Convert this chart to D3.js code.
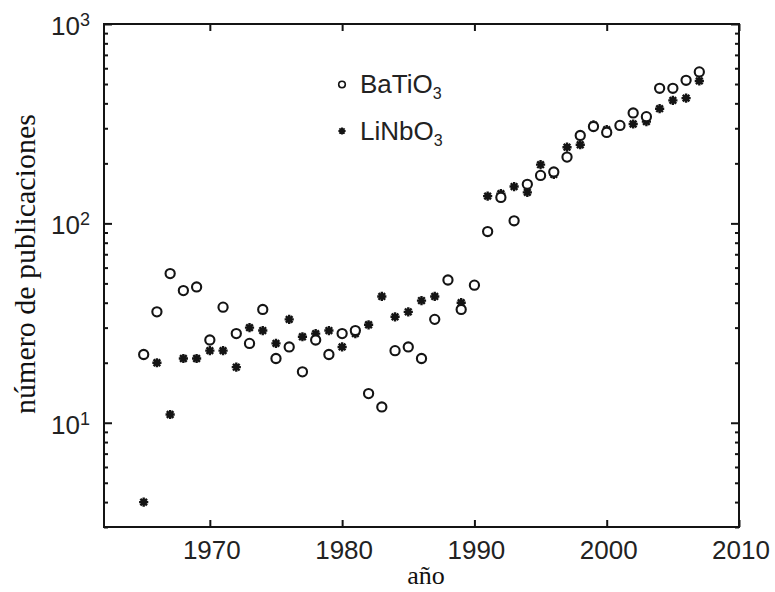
<!DOCTYPE html>
<html>
<head>
<meta charset="utf-8">
<script src="https://cdn.jsdelivr.net/npm/d3@7"></script>
<style>
  html, body { margin: 0; padding: 0; background: #fff; }
  svg { display: block; }
</style>
</head>
<body>
<svg id="chart" width="775" height="592"></svg>
<script>
// ---- data ----
const years = d3.range(1965, 2008);
const batio3 = [22, 36, 56, 46, 48, 26, 38, 28, 25, 37, 21, 24, 18, 26, 22, 28, 29, 14, 12, 23, 24, 21, 33, 52, 37, 49,
                91, 135, 103, 157, 174, 181, 215, 276, 306, 286, 310, 358, 343, 476, 476, 522, 575];
const linbo3 = [4, 20, 11, 21, 21, 23, 23, 19, 30, 29, 25, 33, 27, 28, 29, 24, 28, 31, 43, 34, 36, 41, 43, 52, 40, 49,
                137, 141, 153, 143, 197, 176, 241, 248, 312, 295, 310, 315, 324, 376, 414, 425, 518];
const xTicks = [1970, 1980, 1990, 2000, 2010];
const yMajor = [10, 100, 1000];
const yMajorExp = ["1", "2", "3"];
const yMinor = [3, 4, 5, 6, 7, 8, 9, 20, 30, 40, 50, 60, 70, 80, 90, 200, 300, 400, 500, 600, 700, 800, 900];
const seriesNames = ["BaTiO", "LiNbO"];
const xLabel = "año";
const yLabel = "número de publicaciones";

// ---- layout ----
const L = 104, R = 739, T = 24, B = 527;
const ink = "#141414";
const sans = "'Liberation Sans', Arial, Helvetica, sans-serif";
const serif = "'Liberation Serif', 'Times New Roman', serif";

const svg = d3.select("#chart");
const x = d3.scaleLinear().domain([1962, 2010]).range([L, R]);
const y = d3.scaleLog().domain([3, 1000]).range([B, T]);

// axes (inward ticks)
const gB = svg.append("g").attr("transform", `translate(0,${B})`)
  .call(d3.axisBottom(x).tickValues(xTicks).tickFormat(d3.format("d")).tickSizeInner(-7).tickSizeOuter(0).tickPadding(13.5));
const gT = svg.append("g").attr("transform", `translate(0,${T})`)
  .call(d3.axisTop(x).tickValues(xTicks).tickFormat("").tickSizeInner(-7).tickSizeOuter(0));
const gLmin = svg.append("g").attr("transform", `translate(${L},0)`)
  .call(d3.axisLeft(y).tickValues(yMinor).tickFormat("").tickSizeInner(-4).tickSizeOuter(0));
const gL = svg.append("g").attr("transform", `translate(${L},0)`)
  .call(d3.axisLeft(y).tickValues(yMajor).tickFormat("").tickSizeInner(-8).tickSizeOuter(0));
const gRmin = svg.append("g").attr("transform", `translate(${R},0)`)
  .call(d3.axisRight(y).tickValues(yMinor).tickFormat("").tickSizeInner(-4).tickSizeOuter(0));
const gR = svg.append("g").attr("transform", `translate(${R},0)`)
  .call(d3.axisRight(y).tickValues(yMajor).tickFormat("").tickSizeInner(-8).tickSizeOuter(0));

[gB, gT, gLmin, gL, gRmin, gR].forEach(g => {
  g.select(".domain").remove();
  g.selectAll(".tick line").attr("stroke", ink).attr("stroke-width", 2);
});
gB.selectAll(".tick text").attr("fill", "#222").attr("font-family", sans).attr("font-size", 26).attr("dx", 1.5);

// y major labels with superscripts
yMajor.forEach((v, i) => {
  const t = svg.append("text")
    .attr("x", 90).attr("y", y(v) + 11)
    .attr("text-anchor", "end")
    .attr("font-family", sans).attr("font-size", 26).attr("fill", "#222");
  t.append("tspan").text("10");
  t.append("tspan").attr("font-size", 18).attr("dy", -9).text(yMajorExp[i]);
});

// frame
svg.append("rect").attr("x", L).attr("y", T).attr("width", R - L).attr("height", B - T)
  .attr("fill", "none").attr("stroke", ink).attr("stroke-width", 2);

// markers
const starPath = r => {
  const d = r * 0.72;
  return `M${-r},0L${r},0M0,${-r}L0,${r}M${-d},${-d}L${d},${d}M${-d},${d}L${d},${-d}`;
};

svg.append("g").selectAll("path").data(years.map((yr, i) => [yr, linbo3[i]]))
  .join("path")
  .attr("transform", d => `translate(${x(d[0])},${y(d[1])})`)
  .attr("d", starPath(4.6))
  .attr("stroke", ink).attr("stroke-width", 2.4).attr("fill", "none");

svg.append("g").selectAll("circle").data(years.map((yr, i) => [yr, batio3[i]]))
  .join("circle")
  .attr("cx", d => x(d[0])).attr("cy", d => y(d[1])).attr("r", 4.6)
  .attr("fill", "#fff").attr("stroke", ink).attr("stroke-width", 2.1);

// legend
const leg = svg.append("g");
leg.append("circle").attr("cx", 342).attr("cy", 84.5).attr("r", 3.3)
  .attr("fill", "#fff").attr("stroke", ink).attr("stroke-width", 1.6);
leg.append("path").attr("transform", "translate(342,131)").attr("d", starPath(3.6))
  .attr("stroke", ink).attr("stroke-width", 1.9).attr("fill", "none");
[[93, seriesNames[0]], [139.5, seriesNames[1]]].forEach(([by, name]) => {
  const t = leg.append("text").attr("x", 360).attr("y", by)
    .attr("font-family", sans).attr("font-size", 26).attr("fill", "#222");
  t.append("tspan").text(name);
  t.append("tspan").attr("font-size", 16).attr("dy", 6).text("3");
});

// axis titles
svg.append("text").attr("x", 426).attr("y", 584).attr("text-anchor", "middle")
  .attr("font-family", serif).attr("font-size", 26).attr("fill", "#111").text(xLabel);
svg.append("text").attr("transform", "translate(35,264) rotate(-90)").attr("text-anchor", "middle")
  .attr("font-family", serif).attr("font-size", 30).attr("fill", "#111").text(yLabel);
</script>
</body>
</html>
